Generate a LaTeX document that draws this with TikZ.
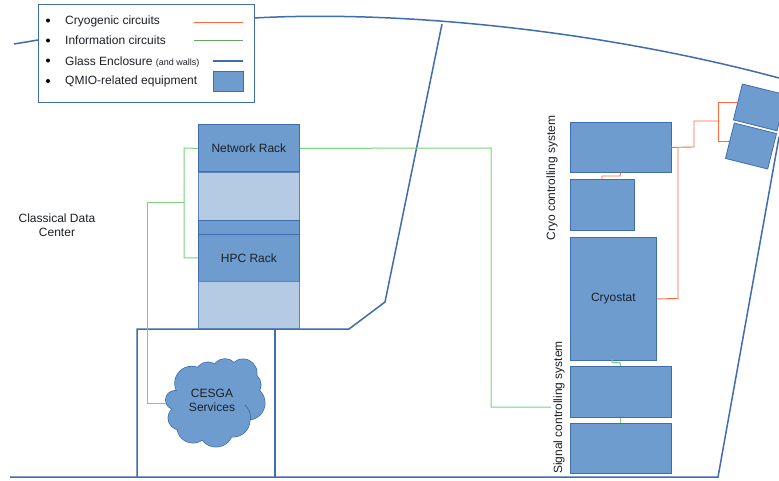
\documentclass[tikz,border=0pt]{standalone}
\usepackage{fontspec}
\setmainfont{Liberation Sans}
\definecolor{eqfill}{HTML}{6F9CCF}
\definecolor{eqlight}{HTML}{B5CBE4}
\definecolor{wall}{HTML}{3F6DAE}
\definecolor{cryo}{HTML}{FF6B3A}
\definecolor{info}{HTML}{7CCF7C}
\definecolor{ink}{HTML}{1C2126}
\tikzset{
  txt/.style={text=ink,font=\fontsize{12}{14}\selectfont,inner sep=0pt},
  eq/.style={draw=wall,line width=0.8pt,fill=eqfill,inner sep=0pt,text=ink,font=\fontsize{12}{14}\selectfont},
  lighteq/.style={draw=wall!85,line width=0.8pt,fill=eqlight,inner sep=0pt},
  wallline/.style={draw=wall,line width=1.5pt,line join=miter},
  cryoline/.style={draw=cryo,line width=0.9pt},
  infoline/.style={draw=info,line width=1pt},
  bul/.style={circle,fill=black,inner sep=0pt,minimum size=4pt}
}
\newcommand{\boxat}[6][eq]{\node[#1,minimum width=#5pt-#3pt,minimum height=#6pt-#4pt,anchor=north west] (#2) at (#3,#4) {};}
\begin{document}
\begin{tikzpicture}[x=1pt,y=-1pt]
\useasboundingbox (0,0) rectangle (779,481);
\clip (0,0) rectangle (779,481);
\fill[white] (0,0) rectangle (779,481);

% walls
\coordinate (wa) at (14,44);
\coordinate (wb) at (38,40);
\coordinate (wc) at (254,18);
\coordinate (wd) at (779,78);
\draw[wallline] (wa) -- (wb);
\draw[wallline] (wc) .. controls (400,10) and (600,30) .. (wd);
\coordinate (ga) at (10,477);
\coordinate (gb) at (718,477);
\coordinate (gc) at (779,137);
\draw[wallline] (ga) -- (gb) -- (gc);
\coordinate (ra) at (137,477);
\coordinate (rb) at (137,329);
\coordinate (rc) at (349,329);
\coordinate (rd) at (385,302);
\coordinate (re) at (442,24);
\coordinate (rf) at (275,329);
\coordinate (rg) at (275,477);
\draw[wallline] (ra) -- (rb) -- (rc) -- (rd) -- (re);
\draw[wallline] (rf) -- (rg);

% racks
\node[eq,minimum width=101pt,minimum height=47pt,anchor=north west] (net) at (198,124.5) {Network Rack};
\boxat[lighteq]{netl}{198}{172}{299}{220}
\boxat{mid}{198}{220}{299}{234}
\node[eq,minimum width=101pt,minimum height=47pt,anchor=north west] (hpc) at (198,234) {HPC Rack};
\boxat[lighteq]{hpcl}{198}{281}{299}{328}

% cloud
\coordinate (cloudl) at (166,403);
\foreach \cx/\cy/\cr in {175/400/9.5,191.7/383.3/17,208/375/13,225/371.7/13,243/373/14,248/385/13,248/403/17,233/420/17,216/430/17,193/427/16,180/418/12}
  \draw[wall,line width=0.8pt,fill=eqfill] (\cx,\cy) circle[radius=\cr];
\foreach \cx/\cy/\cr in {175/400/9.5,191.7/383.3/17,208/375/13,225/371.7/13,243/373/14,248/385/13,248/403/17,233/420/17,216/430/17,193/427/16,180/418/12}
  \fill[eqfill] (\cx,\cy) circle[radius=\cr-0.4];
\fill[eqfill] (180,378) rectangle (245,428);
\draw[wall,line width=0.8pt] (250.5,420) to[bend right=25] (245,405);
\node[eq,draw=none,fill=none,align=center,font=\fontsize{12}{13.3}\selectfont] (cesga) at (212,400.5) {CESGA\\Services};

% equipment right
\boxat{cc}{570}{122}{670.5}{172}
\boxat{cs}{570}{179}{634}{230}
\node[eq,minimum width=86pt,minimum height=122pt,anchor=north west] (cryostat) at (570,237.5) {Cryostat};
\boxat{st}{570}{366}{670.5}{417}
\boxat{sb}{570}{423}{670.5}{473}
\node[eq,minimum width=45pt,minimum height=37pt,rotate=-14] (a) at (759.7,107.4) {};
\node[eq,minimum width=43.5pt,minimum height=36.5pt,rotate=-14] (b) at (751,146) {};

% connectors
\coordinate (ss) at (551,407);
\draw[infoline] (net.east) -- (491,148) |- (ss);
\draw[infoline] (net.west) -- (184,148) |- (hpc.west);
\coordinate (j1) at (184,203);
\draw[infoline] (j1) -- (147,203) |- (cloudl);
\draw[infoline] (612,359) |- (620,362.5) -- (st.north);
\draw[infoline] (st.south) -- (sb.north);
\draw[cryoline] (cc.east) -- (694,147) |- (718,121);
\draw[cryoline] (718,102) -- (738,102);
\draw[cryoline] (718,102) |- (729,141);
\draw[cryoline] (cryostat.east) -- (678,298.5) -- (678,147);
\draw[cryoline] (cc.south) -- (620,176) -| (602,179);

% labels
\node[txt,align=center] (cdc) at (57,225) {Classical Data\\Center};
\node[txt,rotate=90] (cl) at (552,178) {Cryo controlling system};
\node[txt,rotate=90] (sl) at (559,407.5) {Signal controlling system};

% legend
\node[draw=wall,line width=1pt,fill=white,minimum width=216pt,minimum height=98pt,anchor=north west,inner sep=0pt] (legend) at (38,4) {};
\node[bul] (b1) at (48,20.5) {};
\node[bul] (b2) at (48,40.5) {};
\node[bul] (b3) at (48,60.5) {};
\node[bul] (b4) at (48,81) {};
\node[txt,anchor=base west] (t1) at (65,25) {Cryogenic circuits};
\node[txt,anchor=base west] (t2) at (65,45) {Information circuits};
\node[txt,anchor=base west] (t3) at (65,65.5) {Glass Enclosure {\fontsize{9}{10}\selectfont (and walls)}};
\node[txt,anchor=base west] (t4) at (65,85) {QMIO-related equipment};
\coordinate (l1a) at (194,22); \coordinate (l1b) at (243,22);
\coordinate (l2a) at (194,40); \coordinate (l2b) at (243,40);
\coordinate (l3a) at (213,61); \coordinate (l3b) at (243,61);
\draw[cryoline] (l1a) -- (l1b);
\draw[draw=info!80!black,line width=0.8pt] (l2a) -- (l2b);
\draw[wall,line width=2pt] (l3a) -- (l3b);
\boxat{sw}{213}{71}{243}{91}
\end{tikzpicture}
\end{document}
